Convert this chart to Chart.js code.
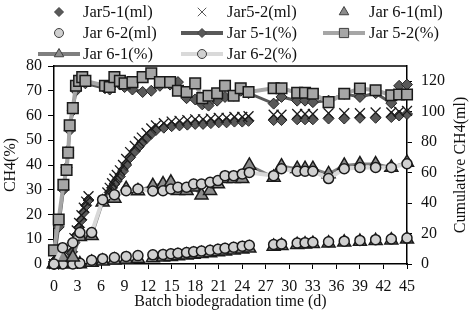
<!DOCTYPE html>
<html>
<head>
<meta charset="utf-8">
<script src="https://cdn.jsdelivr.net/npm/chart.js@4.4.1/dist/chart.umd.min.js"></script>
<style>
html,body{margin:0;padding:0;background:#fff;}
#wrap{width:472px;height:312px;}
</style>
</head>
<body>
<div id="wrap"><canvas id="c" width="472" height="312"></canvas></div>
<script>
// ---- data ----
const daysJar5Pct = [0,0.6,1.2,1.6,1.8,2.0,2.4,2.8,3.2,3.6,4.0,6.5,7.1,7.7,8.4,9,10,11.3,12.4,13.5,14.8,15.8,16.9,18,18.9,19.7,20.8,21.8,22.9,23.8,24.8,28,29,31,32,33,35,37,39,41,43,44,45];
const jar51Pct = [1,15,30,39,46,54,62,70,73,74.5,73, 71,70.5,73,72.5,71.5,70.5,69.5,70, 72,72.5,73.5,67,66.5,64.5,64,66,67.5,68,70,69, 64.8,67.5,66,66,65.4,66,68.8,67.5,69,65,72,72.5];
const jar52Pct = [5.5,18,32,38,45,56,63,72,74,75.5,74, 72,71.5,75.5,74,73,73.5,75.5,77, 73.5,73.5,70,69.5,73,67,68,69,72,68,71,69.5, 71,71,69.2,69.2,68.8,65.4,68.8,70.9,70.2,68.2,68.5,68.5];

const daysJar6 = [0,1.1,2.4,3.3,4.8,6.2,7.7,9.2,10.7,12.6,13.9,14.9,15.8,16.9,17.8,18.8,19.9,20.9,21.8,22.9,24,24.9,28,29,31,32,33,35,37,39,41,43,45];
const jar61Pct = [0,2.7,2.7,11,11.4,25,26.5,30.4,29.5, 31.6,32.3,33,29.6,29.6,31,27.8,29.6,32.3,34.4,34.4,34.4,39.8, 35,39.5,38.5,38.5,38.5,36.4,39.8,40.4,40.4,39,41];
const jar62Pct = [0,6.6,8.6,12.7,12.7,26,28,29.6,30.3, 29.5,29.6,30.3,31,31,32.3,32.3,33,33.7,35.7,35.7,36.4,37, 35.7,38.5,37.5,37.5,37.5,34.5,38.5,39,39,39,40.5];
const jar61Ml = [0,0,0,0,1,1.8,2.5,3,3.5, 4,4.4,4.8,5.2,5.7,6.2,6.7,7.2,7.8,8.4,9,9.7,10.3, 11.5,12,12.6,13,13.3,13.7,14.2,14.7,15.2,15.6,16.2];
const jar62Ml = [0,0,0,0.5,2.5,3.5,4.3,5,5.5, 6,6.3,6.7,7,7.5,8,8.5,9,9.7,10.3,11,11.7,12.3, 12.8,13.2,13.8,14,14.3,14.6,15,15.5,16,16.4,17];

const daysJar5Ml = [0,0.6,1.2,1.6,2.0,2.3,2.6,2.9,3.2,3.5,3.8,4.1,4.4, 6.8,7.1,7.4,7.7,8.0,8.4,8.8,9.2,9.7,10.3,10.8,11.2,11.8,12.4, 13,14,15,16,17,18,19,20,21,22,23,24,24.8, 28,29,31,32,33,35,37,39,41,43,44,45];
const jar51Ml = [0,0,0.5,1,3,8,14,19,24,29,34,38.5,42, 44,47,50,52.5,54.5,57.5,61,65,70,74,77,79.5,82.5,85.5, 88,89.5,90.5,91,91.5,92,92,92.5,93,93,93.5,93.5,94, 94.5,94.5,95,95,95,95.5,95.5,96,96,96.5,97.5,98.5];
const jar52Ml = [0,0,1,2,5,11,17,22,27,32,37,41,44.5, 47,50,53,56,58.5,61.5,65,69,73.5,77.5,80.5,83,86,89, 91,92.5,93.5,94,94.5,95,95,95.5,96,96,96.5,96.5,97, 98,98,98.5,98.5,98.5,99,99,99,99.5,99.5,100,100.5];

const seriesNames = ['Jar5-1(ml)','Jar5-2(ml)','Jar 6-1(ml)','Jar 6-2(ml)','Jar 5-1(%)','Jar 5-2(%)','Jar 6-1(%)','Jar 6-2(%)'];
const xTitle = 'Batch biodegradation time (d)';
const yLeftTitle = 'CH4(%)';
const yRightTitle = 'Cumulative CH4(ml)';

// ---- build ----
const zip = (xs, ys) => xs.map((x, i) => ({x: x, y: ys[i]}));
const FONT = '"Liberation Serif", "Times New Roman", serif';
Chart.defaults.font.family = FONT;
Chart.defaults.font.size = 16;
Chart.defaults.color = '#111';

const styles = [
  {ps:'rectRot', r:5.5, bg:'#595959', bc:'#262626', bw:1, line:false, axis:'y2', data: zip(daysJar5Ml, jar51Ml)},
  {ps:'crossRot', r:7, bg:'#1a1a1a', bc:'#1a1a1a', bw:1.3, line:false, axis:'y2', data: zip(daysJar5Ml, jar52Ml)},
  {ps:'triangle', r:7.5, bg:'#8c8c8c', bc:'#1a1a1a', bw:1.5, line:false, axis:'y2', data: zip(daysJar6, jar61Ml)},
  {ps:'circle', r:5, bg:'#d0d0d0', bc:'#1a1a1a', bw:1.5, line:false, axis:'y2', data: zip(daysJar6, jar62Ml)},
  {ps:'rectRot', r:5.5, bg:'#595959', bc:'#262626', bw:1, line:true, lc:'#595959', lw:3, axis:'y', data: zip(daysJar5Pct, jar51Pct)},
  {ps:'rect', r:7.5, bg:'#a6a6a6', bc:'#1a1a1a', bw:1.5, line:true, lc:'#a6a6a6', lw:4, axis:'y', data: zip(daysJar5Pct, jar52Pct)},
  {ps:'triangle', r:7.5, bg:'#8c8c8c', bc:'#1a1a1a', bw:1.5, line:true, lc:'#7f7f7f', lw:3, axis:'y', data: zip(daysJar6, jar61Pct)},
  {ps:'circle', r:5, bg:'#d0d0d0', bc:'#1a1a1a', bw:1.5, line:true, lc:'#d9d9d9', lw:4, axis:'y', data: zip(daysJar6, jar62Pct)}
];

const datasets = styles.map((s, i) => ({
  label: seriesNames[i],
  data: s.data,
  yAxisID: s.axis,
  showLine: s.line,
  borderColor: s.line ? s.lc : s.bc,
  borderWidth: s.line ? s.lw : 0,
  tension: 0,
  pointStyle: s.ps,
  pointRadius: s.r,
  pointBackgroundColor: s.bg,
  pointBorderColor: s.bc,
  pointBorderWidth: s.bw,
  clip: false,
  order: 8 - i
}));

// legend layout: [col, row, series index]
const legendCells = [[0,0,0],[1,0,1],[2,0,2],[0,1,3],[1,1,4],[2,1,5],[0,2,6],[1,2,7]];
const legendMarkerX = [59, 202, 344];
const legendTextX = [83, 227, 369];
const legendRowY = [12, 33, 54];

function drawMarker(ctx, ps, r, x, y, bg, bc, bw) {
  ctx.save();
  ctx.fillStyle = bg; ctx.strokeStyle = bc; ctx.lineWidth = bw;
  ctx.beginPath();
  if (ps === 'circle') { ctx.arc(x, y, r, 0, Math.PI * 2); ctx.fill(); ctx.stroke(); }
  else if (ps === 'rect') { const h = r * Math.SQRT1_2; ctx.rect(x - h, y - h, 2 * h, 2 * h); ctx.fill(); ctx.stroke(); }
  else if (ps === 'rectRot') { ctx.moveTo(x, y - r); ctx.lineTo(x + r, y); ctx.lineTo(x, y + r); ctx.lineTo(x - r, y); ctx.closePath(); ctx.fill(); ctx.stroke(); }
  else if (ps === 'triangle') {
    for (let k = 0; k < 3; k++) { const a = k * 2 * Math.PI / 3; const px = x + Math.sin(a) * r, py = y - Math.cos(a) * r; if (k === 0) ctx.moveTo(px, py); else ctx.lineTo(px, py); }
    ctx.closePath(); ctx.fill(); ctx.stroke();
  } else if (ps === 'crossRot') {
    const h = r * Math.SQRT1_2; ctx.moveTo(x - h, y - h); ctx.lineTo(x + h, y + h); ctx.moveTo(x + h, y - h); ctx.lineTo(x - h, y + h); ctx.stroke();
  }
  ctx.restore();
}

const overlay = {
  id: 'overlay',
  afterDraw(chart) {
    const ctx = chart.ctx;
    const ca = chart.chartArea;
    ctx.save();
    // top border
    ctx.strokeStyle = '#000'; ctx.lineWidth = 1.5;
    ctx.beginPath(); ctx.moveTo(ca.left, ca.top); ctx.lineTo(ca.right, ca.top); ctx.stroke();
    // legend
    ctx.font = '16.5px ' + FONT;
    ctx.fillStyle = '#111';
    ctx.textBaseline = 'middle';
    ctx.textAlign = 'left';
    legendCells.forEach(([c, r, si]) => {
      const s = styles[si];
      const mx = legendMarkerX[c], my = legendRowY[r];
      if (s.line) {
        ctx.save(); ctx.strokeStyle = s.lc; ctx.lineWidth = 4;
        ctx.beginPath(); ctx.moveTo(mx - 21, my); ctx.lineTo(mx + 21, my); ctx.stroke(); ctx.restore();
      }
      const rr = s.ps === 'rect' ? 6.5 : (s.ps === 'triangle' ? 5.5 : (s.ps === 'crossRot' ? 6 : 4.5));
      drawMarker(ctx, s.ps, rr, mx, my, s.ps === 'crossRot' ? '#595959' : s.bg, s.ps === 'crossRot' ? '#595959' : '#404040', 1);
      ctx.fillStyle = '#111';
      ctx.fillText(seriesNames[si], legendTextX[c], my + 1);
    });
    // right title
    ctx.font = '16px ' + FONT;
    ctx.translate(461, (ca.top + ca.bottom) / 2);
    ctx.rotate(-Math.PI / 2);
    ctx.textAlign = 'center';
    ctx.fillText(yRightTitle, 0, 0);
    ctx.restore();
  }
};

new Chart(document.getElementById('c'), {
  type: 'scatter',
  data: { datasets: datasets },
  options: {
    responsive: false,
    animation: false,
    layout: { padding: { top: 66, left: 0, right: 0, bottom: 0 } },
    plugins: { legend: { display: false }, tooltip: { enabled: false } },
    scales: {
      x: {
        type: 'linear', min: 0, max: 45,
        ticks: { stepSize: 3, padding: 8, color: '#111' },
        grid: { drawOnChartArea: false, drawTicks: true, tickLength: 5, color: '#000' },
        border: { display: true, color: '#000', width: 1.5 },
        title: { display: true, text: xTitle, color: '#111', padding: { top: 0, bottom: 1 } },
        afterFit(s) { s.height = 48; }
      },
      y: {
        position: 'left', min: 0, max: 80,
        ticks: { stepSize: 10, padding: 6, color: '#111' },
        grid: { drawOnChartArea: false, drawTicks: true, tickLength: 6, color: '#000' },
        border: { display: true, color: '#000', width: 1.5 },
        title: { display: true, text: yLeftTitle, color: '#111', padding: { top: 1, bottom: 0 } },
        afterFit(s) { s.width = 54; }
      },
      y2: {
        position: 'right', min: 0, max: 130,
        ticks: { stepSize: 20, padding: 9, color: '#111', includeBounds: false },
        grid: { drawOnChartArea: false, drawTicks: true, tickLength: 5, color: '#000' },
        border: { display: true, color: '#000', width: 1.5 },
        afterFit(s) { s.width = 65; }
      }
    }
  },
  plugins: [overlay]
});
</script>
</body>
</html>
